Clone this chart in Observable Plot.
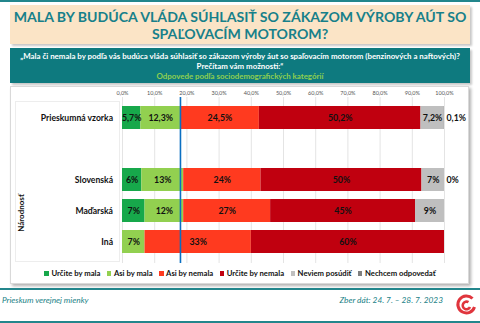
<!DOCTYPE html>
<html>
<head>
<meta charset="utf-8">
<script src="https://cdn.jsdelivr.net/npm/d3@7"></script>
<script src="https://cdn.jsdelivr.net/npm/@observablehq/plot@0.6"></script>
<style>
  html, body { margin: 0; padding: 0; background: #fff; }
  body { width: 480px; height: 323px; position: relative; overflow: hidden; font-family: Lato, "Liberation Sans", sans-serif; }
  .abs { position: absolute; }
  .tealline { left: 0; width: 480px; height: 2px; background: #23868c; }
  #title { left: 10px; top: 5px; width: 460px; height: 39px; background: #fbe4c6; box-shadow: 2px 2px 2px #c8c8c8;
           color: #17808a; font-weight: bold; font-size: 14.1px; line-height: 16.5px; text-align: center; box-sizing: border-box; padding-top: 4px; }
  #question { left: 10px; top: 48px; width: 460px; height: 35px; background: #0e7a7f; box-shadow: 2px 2px 2px #c8c8c8;
           color: #fff; font-weight: bold; font-size: 7.9px; line-height: 10px; text-align: center; box-sizing: border-box; padding-top: 3px; white-space: nowrap; }
  #question .sub { color: #8fcf4f; }
  #panel { left: 10px; top: 86px; width: 459px; height: 198px; background: #fff; border: 1px solid #d9d9d9; box-shadow: 2px 2px 3px #b0b0b0; box-sizing: border-box; }
  #labelbox { left: 15px; top: 101px; width: 105px; height: 161px; border: 1px solid #ededed; box-sizing: border-box; }
  #chart { left: 10px; top: 86px; }
  #group { left: 21px; top: 213px; transform: translate(-50%, -50%) rotate(-90deg); font-weight: bold; font-size: 8px; color: #111; white-space: nowrap; }
  #legend { left: 10px; top: 268px; width: 460px; display: flex; justify-content: center; gap: 6.5px; font-weight: bold; font-size: 7.7px; color: #111; white-space: nowrap; }
  #legend span.sw { display: inline-block; width: 4.5px; height: 4.5px; margin-right: 2.5px; vertical-align: 0.5px; }
  .foot { top: 295px; font-style: italic; font-size: 8.3px; color: #1a7f86; white-space: nowrap; }
</style>
</head>
<body>
<script>
// ---- data ----
const rows = ["Prieskumná vzorka", "Slovenská", "Maďarská", "Iná"];
const spacer = " ";
const series = ["Určite by mala", "Asi by mala", "Asi by nemala", "Určite by nemala", "Neviem posúdiť", "Nechcem odpovedať"];
const seriesColors = ["#17a84b", "#92d050", "#ff3a1f", "#c0000f", "#bfbfbf", "#7f7f7f"];
const urciteByMala   = [5.7, 6, 7, null];
const asiByMala      = [12.3, 13, 12, 7];
const asiByNemala    = [24.5, 24, 27, 33];
const urciteByNemala = [50.2, 50, 45, 60];
const neviemPosudit  = [7.2, 7, 9, null];
const nechcemOdpoved = [0.1, 0, null, null];
const xTicks = [0, 10, 20, 30, 40, 50, 60, 70, 80, 90, 100];
const groupLabel = "Národnosť";
</script>

<div class="abs tealline" style="top:0"></div>
<div id="title" class="abs">MALA BY BUDÚCA VLÁDA SÚHLASIŤ SO ZÁKAZOM VÝROBY AÚT SO<br>SPAĽOVACÍM MOTOROM?</div>
<div id="question" class="abs">„Mala či nemala by podľa vás budúca vláda súhlasiť so zákazom výroby áut so spaľovacím motorom (benzinových a naftových)?<br>Prečítam vám možnosti:“<br><span class="sub">Odpovede podľa sociodemografických kategórií</span></div>
<div id="panel" class="abs"></div>
<div id="labelbox" class="abs"></div>
<div id="chart" class="abs"></div>
<div id="group" class="abs"></div>
<div id="legend" class="abs"></div>
<div class="abs tealline" style="top:288px"></div>
<div class="abs foot" style="left:2px">Prieskum verejnej mienky</div>
<div class="abs foot" style="right:37px">Zber dát: 24. 7. – 28. 7. 2023</div>
<svg class="abs" style="left:455px; top:294px" width="22" height="24" viewBox="0 0 22 24">
  <path d="M17.5 4.5 A8.5 8.5 0 1 0 19.5 13" fill="none" stroke="#e0353d" stroke-width="3"/>
  <path d="M13.5 8.2 A3.8 3.8 0 1 0 15 13" fill="none" stroke="#e0353d" stroke-width="2.6"/>
</svg>
<div class="abs tealline" style="top:321px"></div>

<script>
const columns = [urciteByMala, asiByMala, asiByNemala, urciteByNemala, neviemPosudit, nechcemOdpoved];
const data = [];
rows.forEach((row, i) => {
  series.forEach((s, j) => {
    const v = columns[j][i];
    if (v !== null) data.push({row, series: s, value: v});
  });
});
const last = series[series.length - 1];
const fmt = d => d.row === rows[0] ? d.value.toFixed(1).replace(".", ",") + "%" : d.value + "%";
const divider = urciteByMala[0] + asiByMala[0];

const chart = Plot.plot({
  width: 460,
  height: 180,
  marginLeft: 112,
  marginRight: 26,
  marginTop: 11,
  marginBottom: 3,
  style: {fontFamily: "Lato, 'Liberation Sans', sans-serif", background: "transparent", color: "#111"},
  x: {domain: [0, 100], axis: null},
  y: {domain: [rows[0], spacer, ...rows.slice(1)], padding: 0.25, axis: null},
  color: {domain: series, range: seriesColors},
  marks: [
    Plot.ruleX(xTicks, {stroke: "#e4e4e4", strokeWidth: 1}),
    Plot.axisX({anchor: "top", ticks: xTicks, tickSize: 0, tickPadding: 3, fontSize: 5.5, fill: "#555",
                tickFormat: d => d.toFixed(1).replace(".", ",") + "%", label: null}),
    Plot.axisY({tickSize: 0, tickPadding: 9.5, fontSize: 8.6, fontWeight: "bold", fill: "#111", label: null}),
    Plot.barX(data, Plot.stackX({x: "value", y: "row", fill: "series"})),
    Plot.ruleX([divider], {stroke: "#0a6fc2", strokeWidth: 1.6}),
    Plot.text(data, Plot.stackX({x: "value", y: "row", text: d => d.series !== last ? fmt(d) : null,
              fontSize: 8.8, fontWeight: "bold", fill: "#111"})),
    Plot.text(data, Plot.stackX2({x: "value", y: "row", text: d => d.series === last ? fmt(d) : null,
              textAnchor: "start", dx: 2, fontSize: 8.8, fontWeight: "bold", fill: "#111"}))
  ]
});
document.getElementById("chart").appendChild(chart);
document.getElementById("group").textContent = groupLabel;

const legend = document.getElementById("legend");
series.forEach((s, j) => {
  const item = document.createElement("span");
  item.innerHTML = `<span class="sw" style="background:${seriesColors[j]}"></span>${s}`;
  legend.appendChild(item);
});
</script>
</body>
</html>
